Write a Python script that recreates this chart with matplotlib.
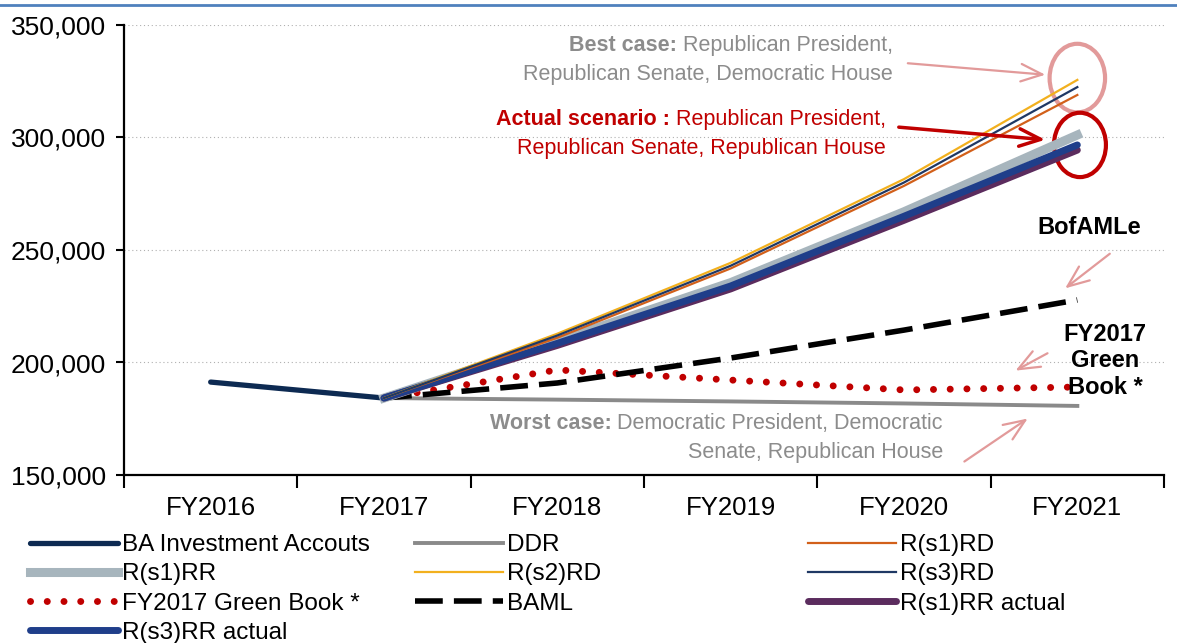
import numpy as np
import matplotlib.pyplot as plt
from matplotlib.patches import Ellipse
from matplotlib.lines import Line2D

plt.rcParams['font.family'] = ['Liberation Sans', 'DejaVu Sans']

years = ['FY2016', 'FY2017', 'FY2018', 'FY2019', 'FY2020', 'FY2021']

# actual accounts, then the scenario paths out from FY2017
ba_accounts = [191300, 184200]
ddr = [184200, 183500, 182700, 181800, 180700]
r_s1_rd = [184200, 211000, 241800, 278500, 318900]
r_s1_rr = [184200, 209500, 235500, 267000, 301100]
r_s2_rd = [184200, 212800, 244300, 281500, 325600]
r_s3_rd = [184200, 212000, 243000, 280000, 322400]
green_book = [184200, 196700, 192200, 187800, 189100]
baml = [184200, 190900, 202000, 214400, 227800]
r_s1_rr_actual = [184200, 207600, 232700, 263200, 294400]
r_s3_rr_actual = [184200, 208500, 234000, 265000, 296700]

fig = plt.figure(figsize=(11.77, 6.43), dpi=100)
ax = fig.add_axes([124/1177, 1 - 475/643, 1040/1177, 450/643])

x0 = np.arange(2)
x1 = np.arange(1, 6)

h_ba, = ax.plot(x0, ba_accounts, color='#0d2a52', lw=3.8, solid_capstyle='round', label='BA Investment Accouts')
h_ddr, = ax.plot(x1, ddr, color='#8a8a8a', lw=2.8, label='DDR')
h_gb, = ax.plot(x1, green_book, color='#c00000', lw=5, ls=(0, (0.01, 2.4)), dash_capstyle='round',
                label='FY2017 Green Book *')
h_baml, = ax.plot(x1, baml, color='black', lw=4, ls=(0, (5, 2)), label='BAML')
h_s1rr, = ax.plot(x1, r_s1_rr, color='#a7b5bd', lw=6.5, label='R(s1)RR')
h_s1rra, = ax.plot(x1, r_s1_rr_actual, color='#5b2c5e', lw=5, solid_capstyle='round', label='R(s1)RR actual')
h_s3rra, = ax.plot(x1, r_s3_rr_actual, color='#1f3e8a', lw=5, solid_capstyle='round', label='R(s3)RR actual')
h_s1rd, = ax.plot(x1, r_s1_rd, color='#d2601a', lw=1.6, label='R(s1)RD')
h_s2rd, = ax.plot(x1, r_s2_rd, color='#f2b01e', lw=1.6, label='R(s2)RD')
h_s3rd, = ax.plot(x1, r_s3_rd, color='#1f3864', lw=1.6, label='R(s3)RD')

ax.set_xlim(-0.5, 5.5)
ax.set_ylim(150000, 350000)
ax.set_yticks(np.arange(150000, 350001, 50000))
ax.yaxis.set_major_formatter(plt.FuncFormatter(lambda v, p: f'{int(v):,}'))
ax.set_xticks(range(6))
ax.set_xticklabels(years)
ax.set_xticks(np.arange(-0.5, 6, 1), minor=True)
ax.tick_params(axis='x', which='major', length=0, labelsize=18.5, pad=15)
ax.tick_params(axis='x', which='minor', length=9, width=1.5, direction='out')
ax.tick_params(axis='y', length=6, width=1.5, labelsize=19, pad=7)
ax.grid(axis='y', ls=(0, (1, 2.5)), color='#b0b0b0', lw=0.8)
for s in ['top', 'right']:
    ax.spines[s].set_visible(False)
for s in ['left', 'bottom']:
    ax.spines[s].set_linewidth(1.6)
ax.set_axisbelow(True)

# scenario callouts
grey = '#8c8c8c'
red = '#c00000'
pink = '#e29a9a'
fs = 15.5


def two_part(x, y, bold, rest, color, size=fs):
    t = ax.text(x, y, rest, color=color, fontsize=size, ha='right', va='center')
    ax.annotate(bold, xy=(0, 0), xycoords=t, ha='right', va='bottom',
                color=color, fontsize=size, fontweight='bold')


two_part(3.937, 340700, 'Best case: ', 'Republican President,', grey)
ax.text(3.937, 328200, 'Republican Senate, Democratic House', color=grey, fontsize=fs, ha='right', va='center')
two_part(3.896, 308200, 'Actual scenario : ', 'Republican President,', red)
ax.text(3.896, 295300, 'Republican Senate, Republican House', color=red, fontsize=fs, ha='right', va='center')
two_part(4.225, 172700, 'Worst case: ', 'Democratic President, Democratic', grey)
ax.text(4.225, 160200, 'Senate, Republican House', color=grey, fontsize=fs, ha='right', va='center')
ax.text(5.07, 259800, 'BofAMLe', fontsize=17, fontweight='bold', ha='center', va='center')
ax.text(5.16, 200700, 'FY2017\nGreen\nBook *', fontsize=17, fontweight='bold', ha='center', va='center',
        linespacing=1.2)

arrow = '->,head_length=1.1,head_width=0.45'
ax.annotate('', xy=(4.831, 327800), xytext=(4.006, 333100),
            arrowprops=dict(arrowstyle=arrow, color=pink, lw=1.6, mutation_scale=14))
ax.annotate('', xy=(4.831, 298900), xytext=(3.954, 304700),
            arrowprops=dict(arrowstyle=arrow, color=red, lw=2.5, mutation_scale=14))
ax.annotate('', xy=(4.917, 232200), xytext=(5.200, 249100),
            arrowprops=dict(arrowstyle=arrow, color=pink, lw=1.6, mutation_scale=14))
ax.annotate('', xy=(4.629, 195800), xytext=(4.842, 204700),
            arrowprops=dict(arrowstyle=arrow, color=pink, lw=1.6, mutation_scale=14))
ax.annotate('', xy=(4.727, 175800), xytext=(4.335, 155300),
            arrowprops=dict(arrowstyle=arrow, color=pink, lw=1.6, mutation_scale=14))

ax.add_patch(Ellipse((5.0, 326400), 0.32, 30500, fill=False, ec=pink, lw=3, clip_on=False))
ax.add_patch(Ellipse((5.015, 296700), 0.30, 28600, fill=False, ec=red, lw=3, clip_on=False))

# legend, laid out as three columns
cols = [
    ([h_ba, h_s1rr, h_gb, h_s3rra], 30),
    ([h_ddr, h_s2rd, h_baml], 415),
    ([h_s1rd, h_s3rd, h_s1rra], 808),
]
for handles, left in cols:
    fig.legend(handles=handles, loc='upper left', bbox_to_anchor=(left / 1177, 1 - 534 / 643),
               frameon=False, fontsize=17.5, handlelength=3.6, handletextpad=0.2,
               labelspacing=0.3, borderpad=0, borderaxespad=0)

# header rule
fig.add_artist(Line2D([0, 1], [1 - 5 / 643, 1 - 5 / 643], color='#4f81bd', lw=2))

fig.savefig('out.png', dpi=100)
